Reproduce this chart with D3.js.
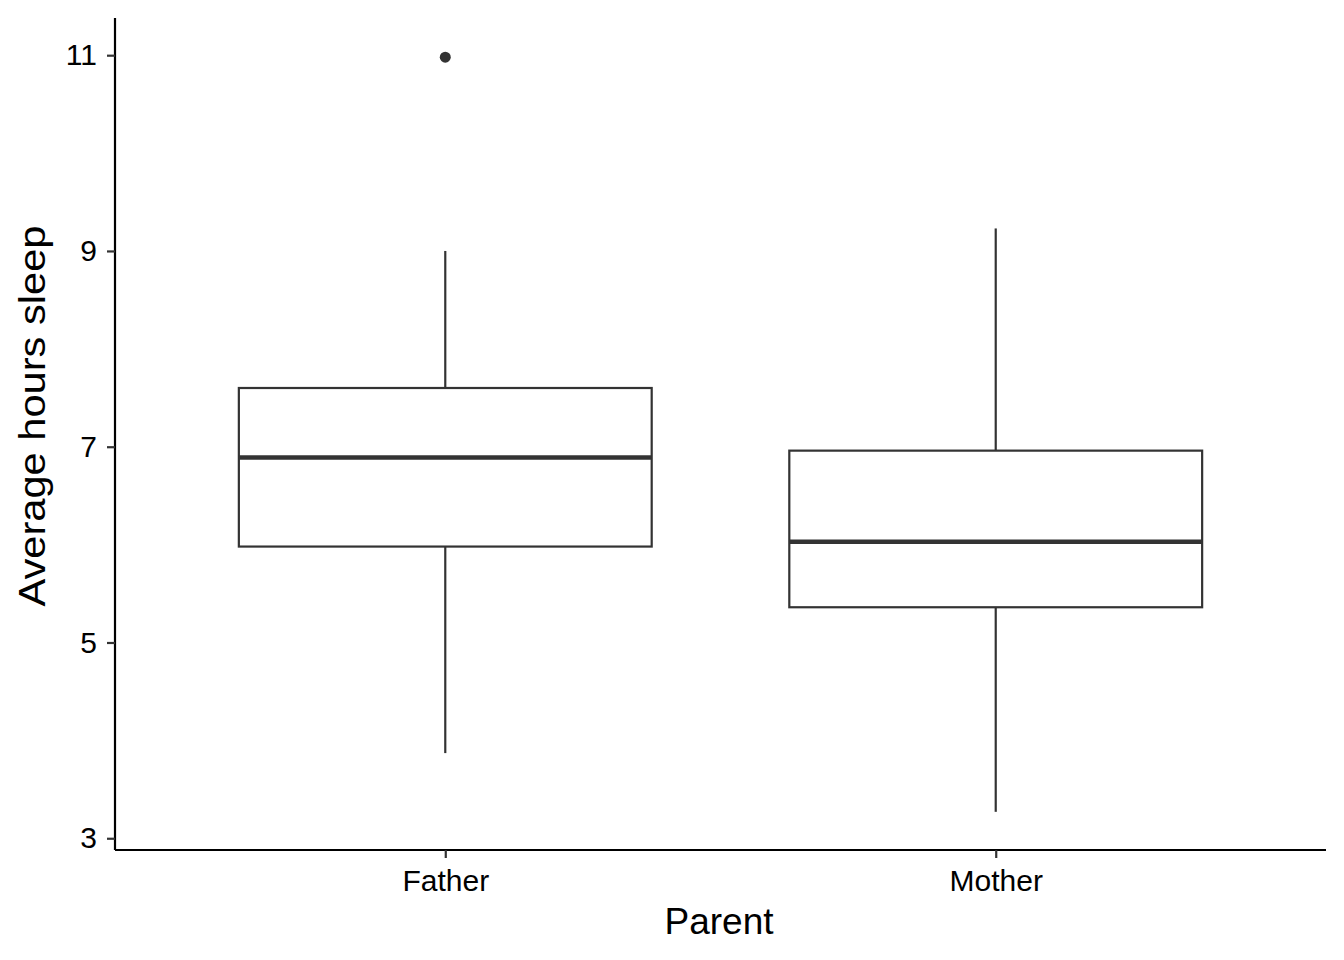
<!DOCTYPE html>
<html><head><meta charset="utf-8">
<script src="https://cdn.jsdelivr.net/npm/d3@7"></script>
<style>body{margin:0;background:#fff}svg{display:block}text{font-family:"Liberation Sans",Arial,sans-serif}</style>
</head><body>
<script>
const categories = ["Father", "Mother"];
const whiskerLow = [3.87, 3.27];
const q1 = [5.98, 5.36];
const median = [6.89, 6.03];
const q3 = [7.60, 6.96];
const whiskerHigh = [9.00, 9.23];
const outliers = [[10.98], []];
const yTicks = [3, 5, 7, 9, 11];

const W = 1344, H = 960;
const m = {left: 115, right: 1326, top: 18, bottom: 850};
const svg = d3.select("body").append("svg").attr("width", W).attr("height", H);

const y = d3.scaleLinear().domain([2.88, 11.38]).range([m.bottom, m.top]);
const x = d3.scalePoint().domain(categories).range([m.left, m.right]).padding(0.6);
const boxW = 0.75 * x.step();

const col = "#333333";
const g = svg.append("g");
categories.forEach((c, i) => {
  const cx = x(c);
  g.append("line").attr("x1", cx).attr("x2", cx).attr("y1", y(q3[i])).attr("y2", y(whiskerHigh[i])).attr("stroke", col).attr("stroke-width", 2.2);
  g.append("line").attr("x1", cx).attr("x2", cx).attr("y1", y(q1[i])).attr("y2", y(whiskerLow[i])).attr("stroke", col).attr("stroke-width", 2.2);
  g.append("rect").attr("x", cx - boxW/2).attr("width", boxW).attr("y", y(q3[i])).attr("height", y(q1[i]) - y(q3[i])).attr("fill", "#fff").attr("stroke", col).attr("stroke-width", 2.2);
  g.append("line").attr("x1", cx - boxW/2).attr("x2", cx + boxW/2).attr("y1", y(median[i])).attr("y2", y(median[i])).attr("stroke", col).attr("stroke-width", 4.5);
  outliers[i].forEach(v => g.append("circle").attr("cx", cx).attr("cy", y(v)).attr("r", 5.5).attr("fill", col));
});

// axes
const ya = svg.append("g").attr("transform", `translate(${m.left},0)`)
  .call(d3.axisLeft(y).tickValues(yTicks).tickSize(8).tickPadding(10).tickSizeOuter(0));
const xa = svg.append("g").attr("transform", `translate(0,${m.bottom})`)
  .call(d3.axisBottom(x).tickSize(8).tickPadding(12).tickSizeOuter(0));
[ya, xa].forEach(a => {
  a.select(".domain").attr("stroke", "#000").attr("stroke-width", 2.2);
  a.selectAll(".tick line").attr("stroke", "#333").attr("stroke-width", 2.2);
  a.selectAll(".tick text").attr("fill", "#000").attr("font-size", 30)
    .attr("font-family", "Liberation Sans, Arial, sans-serif");
});
ya.select(".domain").attr("d", `M0,${m.top}V${m.bottom}`);
xa.select(".domain").attr("d", `M${m.left},0H${m.right}`);

svg.append("text").attr("x", 719).attr("y", 934).attr("text-anchor", "middle")
  .attr("font-size", 37).text("Parent");
svg.append("text").attr("transform", `translate(45,416) rotate(-90)`).attr("text-anchor", "middle")
  .attr("font-size", 36).attr("textLength", 381).attr("lengthAdjust", "spacingAndGlyphs").text("Average hours sleep");
</script>
</body></html>
